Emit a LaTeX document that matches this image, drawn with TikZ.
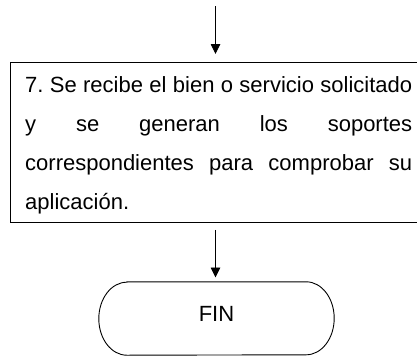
\documentclass[tikz,border=0pt]{standalone}
\usepackage{fontspec}
\setmainfont{Liberation Sans}
\usetikzlibrary{arrows.meta}
\tikzset{
  flow/.style={line width=0.9pt, -{Triangle[width=9.5pt,length=10pt]}},
  procbox/.style={draw, line width=0.9pt, anchor=north west, inner sep=0pt,
    minimum width=409pt, minimum height=160.3pt},
  bodytext/.style={anchor=north west, inner sep=0pt, text width=387pt, align=justify,
    font=\fontsize{22}{39}\selectfont},
  termtext/.style={inner sep=0pt, minimum width=235pt, minimum height=73pt,
    text height=15.7pt, text depth=9.4pt, font=\fontsize{22}{26}\selectfont}
}
\begin{document}
\begin{tikzpicture}[x=1pt,y=-1pt]
\useasboundingbox (0,0) rectangle (417,356);
\coordinate (top) at (215.5,6);
\node (box) [procbox] at (10,62) {};
\node (txt) [bodytext] at (25,75.7) {\frenchspacing\hyphenpenalty=10000\rule{0pt}{17pt}7. Se recibe el bien o servicio solicitado\linebreak y se generan los soportes\linebreak correspondientes para comprobar su\linebreak aplicación.};
\node (fin) [termtext] at (216.5,318.5) {FIN};
\draw[line width=0.9pt] ([xshift=28pt]fin.north west) -- ([xshift=-28pt]fin.north east)
  arc[start angle=90,end angle=-90,x radius=28pt,y radius=36.5pt]
  -- ([xshift=28pt]fin.south west)
  arc[start angle=270,end angle=90,x radius=28pt,y radius=36.5pt] -- cycle;
\draw[flow, shorten >=8pt] (top) -- (top |- box.north);
\draw[flow, shorten <=6.7pt, shorten >=4.3pt] (top |- box.south) -- (top |- fin.north);
\end{tikzpicture}
\end{document}
